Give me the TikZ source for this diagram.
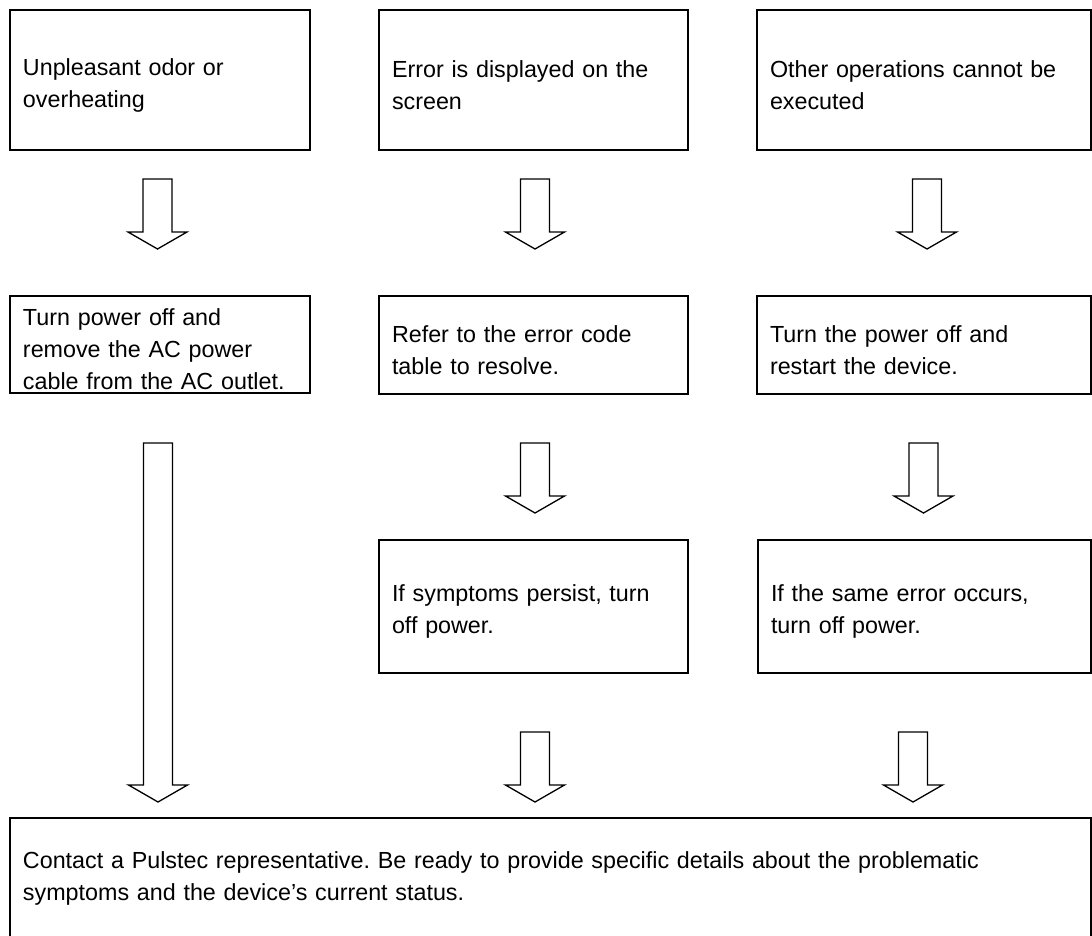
\documentclass[tikz,border=0pt]{standalone}
\usepackage{fontspec}
\setmainfont{Liberation Sans}
\usepackage{tikz}
\usetikzlibrary{calc}
\frenchspacing

% hollow down arrow from tail centre #1 to tip #2
\newcommand{\downblock}[2]{%
  \draw[blockarr] ($(#1)+(-14.5,0)$) -- ($(#1)+(14.5,0)$) -- ($(#2)+(14.5,-17)$)
    -- ($(#2)+(29.5,-17)$) -- (#2) -- ($(#2)+(-29.5,-17)$) -- ($(#2)+(-14.5,-17)$) -- cycle;}

\begin{document}
\begin{tikzpicture}[x=1pt,y=-1pt,
  box/.style={draw,line width=2pt,anchor=north west,outer sep=0pt,inner xsep=13pt,inner ysep=0pt,
    align=left,font=\fontsize{23.3}{32}\selectfont},
  lowbox/.style={box,execute at begin node=\rule{0pt}{27pt}},
  blockarr/.style={line width=1.3pt,line join=miter}]
\useasboundingbox (0,0) rectangle (1092,935);
\clip (0,0) rectangle (1092,935);
% symptoms
\node[lowbox,minimum width=300pt,minimum height=140pt,text width=274pt] (odor) at (10,10) {Unpleasant odor or\\overheating};
\node[lowbox,minimum width=309pt,minimum height=140pt,text width=283pt] (err) at (379,10) {Error is displayed on the\\screen};
\node[lowbox,minimum width=334pt,minimum height=140pt,text width=308pt] (ops) at (757,10) {Other operations cannot be\\executed};
% first actions
\node[lowbox,minimum width=300pt,minimum height=97pt,text width=274pt] (unplug) at (10,296) {Turn power off and\\remove the AC power\\cable from the AC outlet.};
\node[lowbox,minimum width=309pt,minimum height=98pt,text width=283pt] (table) at (379,296) {Refer to the error code\\table to resolve.};
\node[lowbox,minimum width=334pt,minimum height=98pt,text width=308pt] (restart) at (757,296) {Turn the power off and\\restart the device.};
% second actions
\node[lowbox,minimum width=309pt,minimum height=133pt,text width=283pt] (persist) at (379,540) {If symptoms persist, turn\\off power.};
\node[lowbox,minimum width=333pt,minimum height=133pt,text width=307pt] (again) at (758,540) {If the same error occurs,\\turn off power.};
% last step, runs past the lower edge
\node[box,minimum width=1081pt,minimum height=120pt,text width=1055pt] (contact) at (10,818) {Contact a Pulstec representative. Be ready to provide specific details about the problematic\\symptoms and the device’s current status.};

% arrow tails and tips
\coordinate (odor-t) at (157.5,179);   \coordinate (odor-h) at (157.5,249);
\coordinate (err-t) at (535,179);      \coordinate (err-h) at (535,249);
\coordinate (ops-t) at (927,179);      \coordinate (ops-h) at (927,249);
\coordinate (unplug-t) at (158,443);   \coordinate (unplug-h) at (158,802);
\coordinate (table-t) at (535,443);    \coordinate (table-h) at (535,513);
\coordinate (restart-t) at (923.5,443);\coordinate (restart-h) at (923.5,513);
\coordinate (persist-t) at (535,732);  \coordinate (persist-h) at (535,802);
\coordinate (again-t) at (913,732);    \coordinate (again-h) at (913,802);

\downblock{odor-t}{odor-h}
\downblock{err-t}{err-h}
\downblock{ops-t}{ops-h}
\downblock{unplug-t}{unplug-h}
\downblock{table-t}{table-h}
\downblock{restart-t}{restart-h}
\downblock{persist-t}{persist-h}
\downblock{again-t}{again-h}
\end{tikzpicture}
\end{document}
